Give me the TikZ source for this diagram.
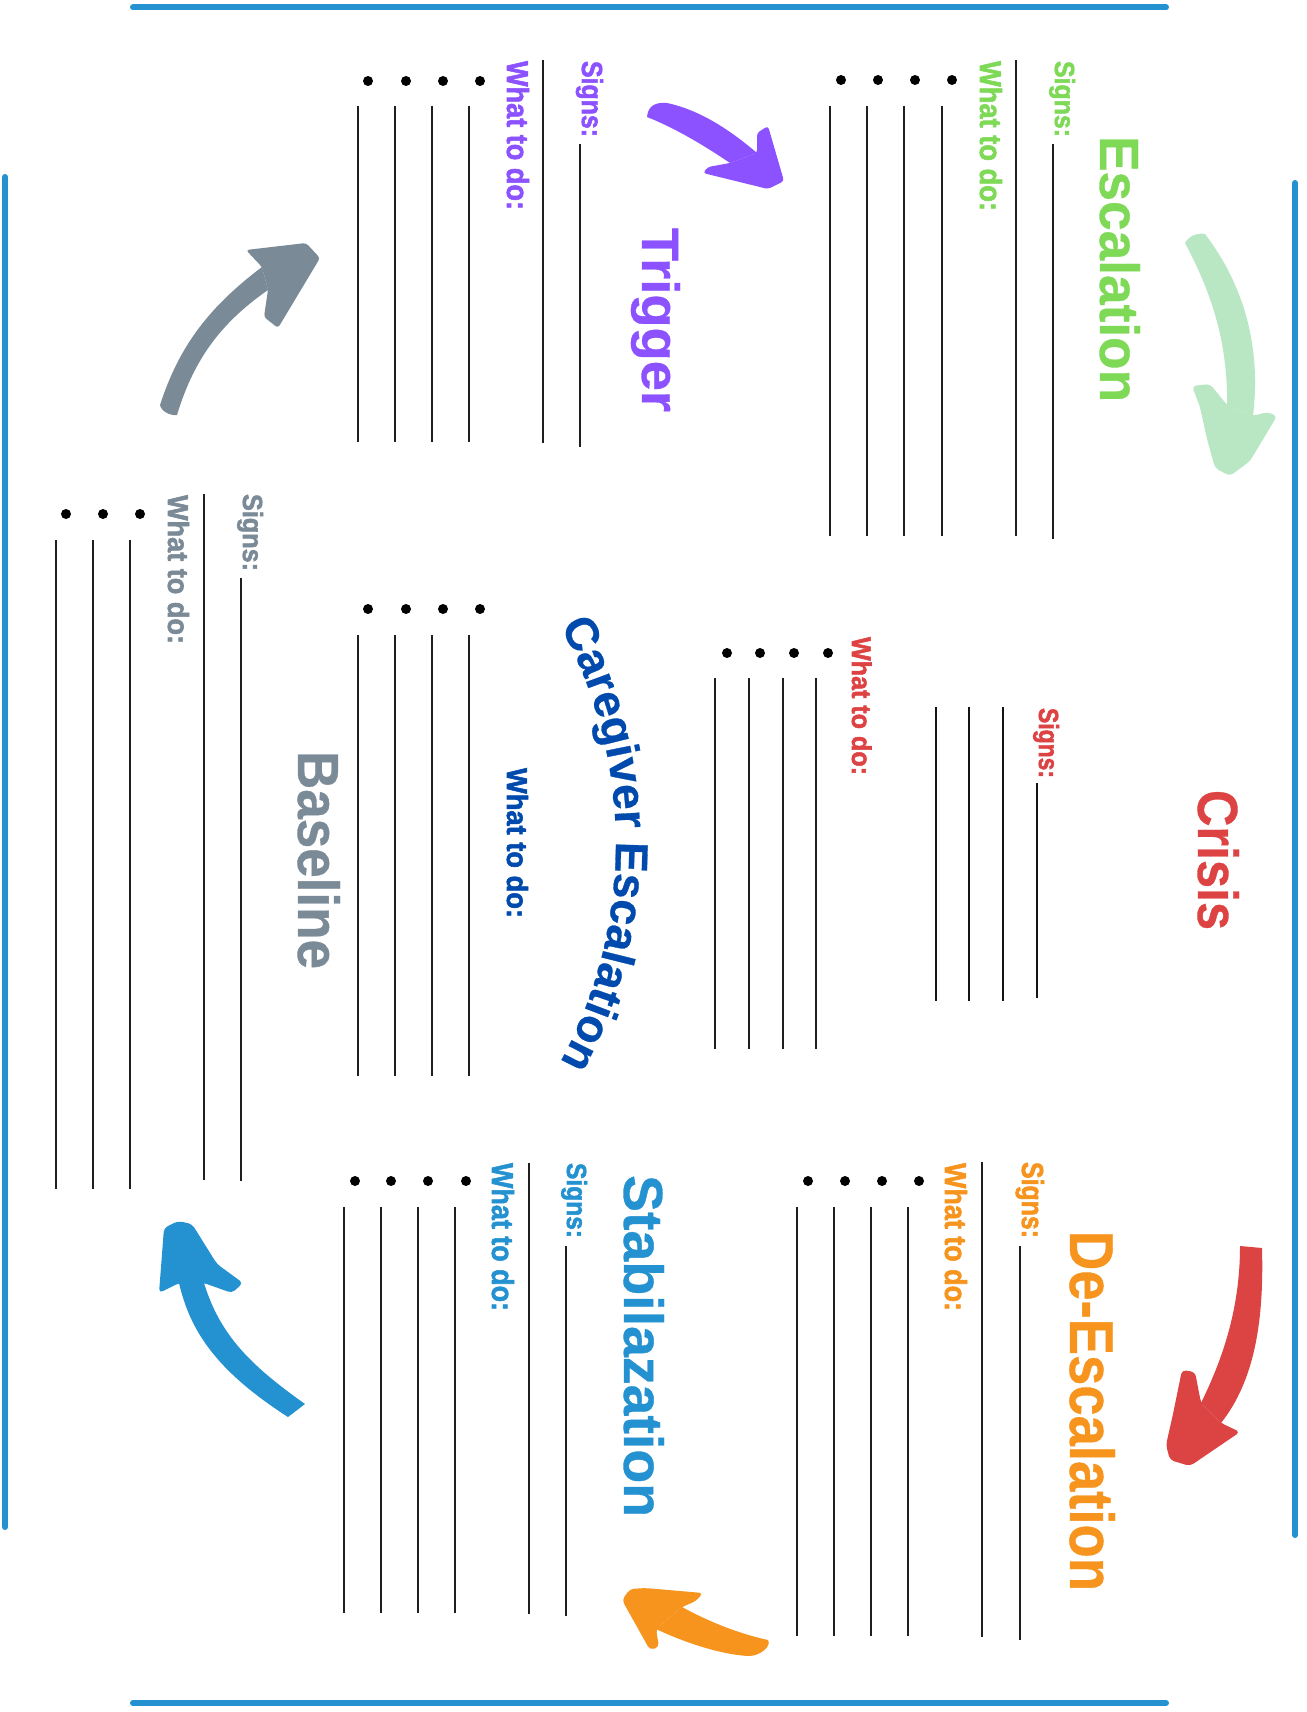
\documentclass[tikz,border=0pt]{standalone}
\usepackage{fontspec}
\setmainfont{Liberation Sans}
\newfontfamily\labfont[FakeBold=2]{Liberation Sans Bold}
\newfontfamily\titfont[FakeBold=0.6]{Liberation Sans Bold}
\usepackage{graphicx}
\usetikzlibrary{decorations.text}
\definecolor{frameblue}{HTML}{2491D1}
\definecolor{escgreen}{HTML}{7ED957}
\definecolor{lightgreen}{HTML}{B9E7C4}
\definecolor{trigpurple}{HTML}{8C52FF}
\definecolor{crisred}{HTML}{DE4343}
\definecolor{arrred}{HTML}{DC4343}
\definecolor{deorange}{HTML}{F7941D}
\definecolor{basegray}{HTML}{7A8A97}
\definecolor{cgblue}{HTML}{004AAD}
\definecolor{stabblue}{HTML}{2491D1}
\newcommand{\vlabel}[7]{\node[rotate=-90, anchor=base west, inner sep=0pt, outer sep=0pt, text=#5] (#1) at (#2,#3) {\resizebox{#4pt}{#6pt}{\labfont #7}};}
\newcommand{\vtitle}[7]{\node[rotate=-90, anchor=base west, inner sep=0pt, outer sep=0pt, text=#5] (#1) at (#2,#3) {\resizebox{#4pt}{#6pt}{\titfont #7}};}
\newcommand{\ruleline}[3]{\draw[rule] (#1,#2) -- (#1,#3);}
\newcommand{\bul}[2]{\fill (#1,#2) circle (5pt);}
\begin{document}
\begin{tikzpicture}[x=1pt,y=-1pt,
  rule/.style={line width=2.2pt, draw=black!88},
  thickrule/.style={line width=2.8pt, draw=black!92},
  frame/.style={line width=6pt, draw=frameblue, line cap=round}]
\useasboundingbox (0,0) rectangle (1306,1712);
\fill[white] (0,0) rectangle (1306,1712);

% frame
\draw[frame] (133,7.5) -- (1166,7.5);
\draw[frame] (133,1703) -- (1166,1703);
\draw[frame] (5,177) -- (5,1527);
\draw[frame] (1295,183) -- (1295,1535);

% ---------- Escalation ----------
\vtitle{esct}{1100}{136}{266}{escgreen}{40}{Escalation}
\vlabel{escs}{1055}{61}{76}{escgreen}{20}{Signs:}
\vlabel{escw}{980}{61}{150}{escgreen}{22}{What to do:}
\ruleline{1053}{144}{539}
\ruleline{1016}{60}{536}
\foreach \x in {830,867,904,942} {\ruleline{\x}{106}{536}}
\foreach \x in {841,878,915,952} {\bul{\x}{80}}

% ---------- Trigger ----------
\vtitle{trit}{642}{228}{184}{trigpurple}{38}{Trigger}
\vlabel{tris}{582}{61}{76}{trigpurple}{21}{Signs:}
\vlabel{triw}{507}{61}{149}{trigpurple}{22}{What to do:}
\ruleline{580}{144}{447}
\ruleline{543}{60}{443}
\foreach \x in {358,395,432,469} {\ruleline{\x}{106}{442}}
\foreach \x in {368,406,443,480} {\bul{\x}{81}}

% ---------- Crisis ----------
\vtitle{crit}{1198}{790}{140}{crisred}{41}{Crisis}
\vlabel{cris}{1039}{708}{70}{crisred}{20}{Signs:}
\vlabel{criw}{852}{637}{138}{crisred}{19.5}{What to do:}
\draw[thickrule] (1037,783) -- (1037,998);
\foreach \x in {936,969,1003} {\draw[thickrule] (\x,707) -- (\x,1001);}
\foreach \x in {715,749,783,816} {\ruleline{\x}{678}{1049}}
\foreach \x in {727,760,794,828} {\bul{\x}{653}}

% ---------- Caregiver Escalation ----------
\path[decorate, decoration={text along path, text align=center, text color=cgblue,
  text={|\fontsize{46pt}{50pt}\titfont|Caregiver Escalation}}]
  (509.8,552.2) .. controls (651.2,720.7) and (651.2,967.3) .. (509.8,1135.8);
\vlabel{cgw}{507}{768}{150}{cgblue}{21}{What to do:}
\foreach \x in {358,395,432,469} {\ruleline{\x}{635}{1076}}
\foreach \x in {368,406,443,480} {\bul{\x}{609}}

% ---------- Baseline ----------
\vtitle{bast}{298}{751}{218}{basegray}{42}{Baseline}
\vlabel{bass}{243}{494}{77}{basegray}{20}{Signs:}
\vlabel{basw}{168}{495}{149}{basegray}{21}{What to do:}
\ruleline{241}{578}{1181}
\ruleline{204}{494}{1180}
\foreach \x in {56,93,130} {\ruleline{\x}{540}{1189}}
\foreach \x in {66,103,140} {\bul{\x}{514}}

% ---------- De-Escalation ----------
\vtitle{det}{1070}{1231}{360}{deorange}{45}{De-Escalation}
\vlabel{des}{1022}{1162}{76}{deorange}{22}{Signs:}
\vlabel{dew}{945}{1163}{148}{deorange}{22}{What to do:}
\ruleline{1020}{1246}{1640}
\ruleline{982}{1162}{1637}
\foreach \x in {797,834,871,908} {\ruleline{\x}{1207}{1636}}
\foreach \x in {808,845,882,919} {\bul{\x}{1181}}

% ---------- Stabilazation ----------
\vtitle{stat}{624}{1175}{342}{stabblue}{40}{Stabilazation}
\vlabel{stas}{567}{1163}{75}{stabblue}{20}{Signs:}
\vlabel{staw}{492}{1163}{148}{stabblue}{22}{What to do:}
\ruleline{566}{1246}{1616}
\ruleline{529}{1163}{1614}
\foreach \x in {344,381,418,455} {\ruleline{\x}{1207}{1613}}
\foreach \x in {355,391,428,466} {\bul{\x}{1181}}

% ---------- Arrows ----------
% grey (baseline -> trigger)
\fill[basegray] (160,405) .. controls (178,350) and (205,310) .. (262,267) -- (268,290)
  .. controls (225,320) and (195,355) .. (177,415) .. controls (170,416) and (161,411) .. (160,405) -- cycle;
\fill[basegray, rounded corners=3pt] (246,250) -- (306,243) -- (320,258) -- (278,328) -- (264,317) -- (268,290) -- (262,267) -- cycle;

% purple (trigger -> escalation)
\fill[trigpurple] (647,117) .. controls (648,106) and (655,102) .. (667,103)
  .. controls (700,110) and (730,130) .. (757,153) -- (730,163) .. controls (705,146) and (675,128) .. (647,117) -- cycle;
\fill[trigpurple, rounded corners=3pt] (757,153) -- (757,133) -- (768,126) -- (784,181) -- (768,189) -- (703,173) -- (708,167) -- (730,163) -- cycle;

% light green (escalation -> crisis)
\fill[lightgreen] (1185,243) .. controls (1190,234) and (1200,233) .. (1205,234)
  .. controls (1240,280) and (1262,340) .. (1253,416) -- (1227,405) .. controls (1228,340) and (1210,290) .. (1185,243) -- cycle;
\fill[lightgreen, rounded corners=4pt] (1192,386) -- (1210,384) -- (1227,405) -- (1253,416) -- (1267,412) -- (1277,416) -- (1250,461) -- (1230,476) -- (1215,468) -- (1207,439) -- (1200,407) -- cycle;

% red (crisis -> de-escalation)
\fill[arrred] (1240,1246) -- (1262,1248) .. controls (1264,1320) and (1255,1380) .. (1221,1423)
  -- (1201,1403) .. controls (1222,1360) and (1240,1310) .. (1240,1246) -- cycle;
\fill[arrred, rounded corners=4pt] (1182,1370) -- (1195,1372) -- (1201,1403) -- (1221,1423) -- (1240,1432) -- (1190,1466) -- (1170,1460) -- (1166,1445) -- (1173,1414) -- cycle;

% orange (de-escalation -> stabilization)
\fill[deorange] (682,1607) .. controls (715,1625) and (745,1635) .. (768,1640)
  .. controls (772,1646) and (760,1656) .. (749,1656) .. controls (725,1655) and (690,1645) .. (656,1629) -- cycle;
\fill[deorange, rounded corners=4pt] (622,1600) -- (630,1589) -- (645,1588) -- (703,1593) -- (696,1601) -- (682,1607) -- (656,1629) -- (659,1647) -- (650,1650) -- cycle;

% blue (stabilization -> baseline)
\fill[stabblue] (179,1283) .. controls (190,1330) and (215,1370) .. (288,1417) -- (305,1404)
  .. controls (250,1365) and (220,1335) .. (204,1283) -- cycle;
\fill[stabblue, rounded corners=4pt] (164,1228) -- (178,1221) -- (192,1224) -- (217,1264) -- (243,1283) -- (232,1293) -- (204,1283) -- (179,1283) -- (159,1293) -- cycle;
\end{tikzpicture}
\end{document}
